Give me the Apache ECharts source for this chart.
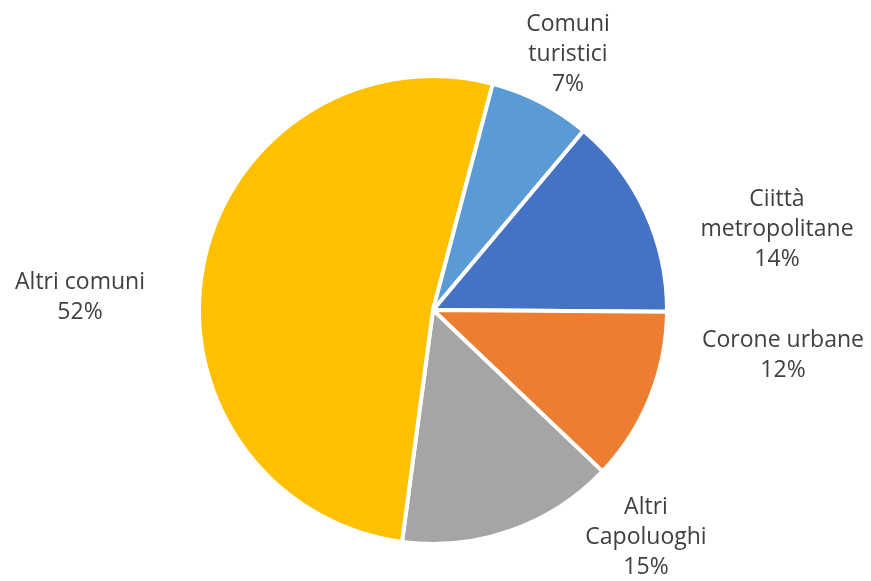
<!DOCTYPE html>
<html>
<head>
<meta charset="utf-8">
<script src="https://cdn.jsdelivr.net/npm/echarts@6/dist/echarts.min.js"></script>
<style>
html,body{margin:0;padding:0;background:#fff;}
#chart{width:871px;height:581px;}
</style>
</head>
<body>
<div id="chart"></div>
<script>
// Data (clockwise order, as in the source)
const categories = ['Ciittà\nmetropolitane', 'Corone urbane', 'Altri\nCapoluoghi', 'Altri comuni', 'Comuni\nturistici'];
const values = [14, 12, 15, 52, 7];
const colors = ['#4472C4', '#ED7D31', '#A5A5A5', '#FFC000', '#5B9BD5'];

// Label layout (pixel centres of each label block)
const labelCenters = [[777, 229], [783, 355], [646, 537], [80, 297], [568, 54]];

const chart = echarts.init(document.getElementById('chart'), null, {renderer: 'canvas'});
const option = {
  animation: false,
  series: [{
    type: 'pie',
    center: [433, 310],
    radius: 234,
    startAngle: 50,
    clockwise: true,
    avoidLabelOverlap: false,
    emphasis: {disabled: true},
    itemStyle: {borderColor: '#ffffff', borderWidth: 4},
    label: {
      show: true,
      position: 'outside',
      fontFamily: '"Open Sans", sans-serif',
      fontSize: 23,
      lineHeight: 30,
      color: '#404040',
      formatter: function (p) { return p.name + '\n' + Math.round(p.percent) + '%'; }
    },
    labelLine: {show: false},
    labelLayout: function (params) {
      const c = labelCenters[params.dataIndex];
      return {x: c[0], y: c[1], align: 'center', verticalAlign: 'middle'};
    },
    data: categories.map(function (name, i) {
      return {name: name, value: values[i], itemStyle: {color: colors[i]}};
    })
  }]
};
chart.setOption(option);
</script>
</body>
</html>
